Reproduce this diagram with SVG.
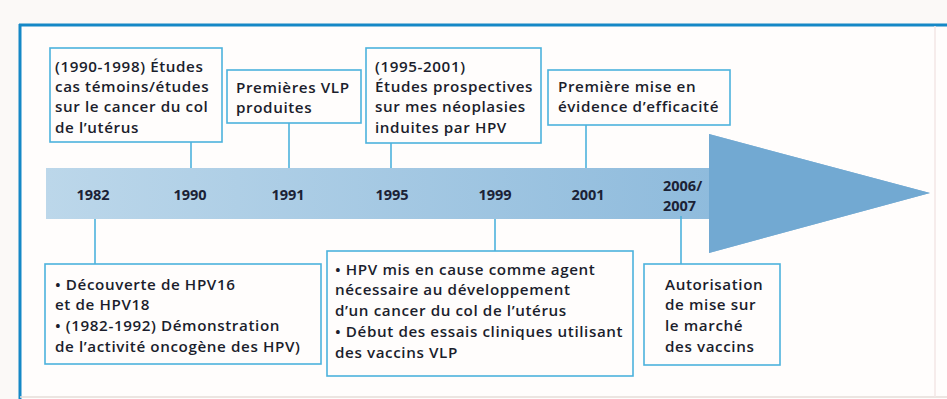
<svg xmlns="http://www.w3.org/2000/svg" width="947" height="399" viewBox="0 0 947 399">
<defs>
<linearGradient id="band" x1="0" y1="0" x2="1" y2="0">
<stop offset="0" stop-color="#bcd7ea"/>
<stop offset="1" stop-color="#80b2d8"/>
</linearGradient>
<style>
.box{fill:#fffdfc;stroke:#4db2dc;stroke-width:1.6}
.t{font-family:"Open Sans","Noto Sans",sans-serif;font-weight:600;font-size:15.2px;letter-spacing:0.6px;fill:#1b1e2c}
.y{font-family:"Open Sans","Noto Sans",sans-serif;font-weight:700;font-size:14.5px;fill:#1b2236;text-anchor:middle}
.c{stroke:#4db2dc;stroke-width:1.6;fill:none}
</style>
</defs>
<rect x="0" y="0" width="947" height="399" fill="#fbf9f7"/>
<rect x="19" y="25" width="928" height="374" fill="#fffdfc"/>
<line x1="19" y1="25" x2="947" y2="25" stroke="#1588c6" stroke-width="3"/>
<line x1="20" y1="24" x2="20" y2="399" stroke="#1588c6" stroke-width="3"/>
<line x1="20" y1="397" x2="947" y2="397" stroke="#e6dcd8" stroke-width="1.5"/>
<line x1="935" y1="26" x2="935" y2="397" stroke="#f3e6e6" stroke-width="1.5"/>

<g id="timeline">
<path d="M46,168 H709 V134 L930,193 L709,253 V219 H46 Z" fill="url(#band)"/>
<path d="M709,134 L930,193 L709,253 Z" fill="#72a9d2"/>
<text class="y" x="93" y="200">1982</text>
<text class="y" x="190" y="200">1990</text>
<text class="y" x="288" y="200">1991</text>
<text class="y" x="392" y="200">1995</text>
<text class="y" x="495" y="200">1999</text>
<text class="y" x="588" y="200">2001</text>
<text class="y" x="663" y="191" style="text-anchor:start">2006/</text>
<text class="y" x="663" y="211" style="text-anchor:start">2007</text>
</g>

<g id="connectors">
<line class="c" x1="191" y1="142" x2="191" y2="168"/>
<line class="c" x1="289" y1="123" x2="289" y2="168"/>
<line class="c" x1="391" y1="143" x2="391" y2="168"/>
<line class="c" x1="586" y1="125" x2="586" y2="168"/>
<line class="c" x1="95" y1="219" x2="95" y2="264"/>
<line class="c" x1="495" y1="219" x2="495" y2="251"/>
<line class="c" x1="681" y1="216" x2="681" y2="264"/>
</g>

<g id="n1990">
<rect class="box" x="50" y="48" width="172" height="94"/>
<text class="t" x="55" y="72">(1990-1998) Études</text>
<text class="t" x="55" y="92">cas témoins/études</text>
<text class="t" x="55" y="112">sur le cancer du col</text>
<text class="t" x="55" y="133">de l’utérus</text>
</g>
<g id="n1991">
<rect class="box" x="227" y="70" width="134" height="53"/>
<text class="t" x="236" y="93">Premières VLP</text>
<text class="t" x="236" y="113">produites</text>
</g>
<g id="n1995">
<rect class="box" x="366" y="48" width="175" height="95"/>
<text class="t" x="375" y="72">(1995-2001)</text>
<text class="t" x="375" y="92">Études prospectives</text>
<text class="t" x="375" y="112">sur mes néoplasies</text>
<text class="t" x="375" y="133">induites par HPV</text>
</g>
<g id="n2001">
<rect class="box" x="548" y="70" width="182" height="55"/>
<text class="t" x="558" y="92">Première mise en</text>
<text class="t" x="558" y="112">évidence d’efficacité</text>
</g>
<g id="n1982">
<rect class="box" x="45" y="264" width="276" height="100"/>
<text class="t" x="55" y="290">• Découverte de HPV16</text>
<text class="t" x="55" y="310">et de HPV18</text>
<text class="t" x="55" y="331">• (1982-1992) Démonstration</text>
<text class="t" x="55" y="352">de l’activité oncogène des HPV)</text>
</g>
<g id="n1999">
<rect class="box" x="327" y="251" width="306" height="125"/>
<text class="t" x="335" y="275">• HPV mis en cause comme agent</text>
<text class="t" x="335" y="295">nécessaire au développement</text>
<text class="t" x="335" y="316">d’un cancer du col de l’utérus</text>
<text class="t" x="335" y="337">• Début des essais cliniques utilisant</text>
<text class="t" x="335" y="358">des vaccins VLP</text>
</g>
<g id="n2006">
<rect class="box" x="644" y="264" width="136" height="101"/>
<text class="t" x="665" y="290">Autorisation</text>
<text class="t" x="665" y="310">de mise sur</text>
<text class="t" x="665" y="331">le marché</text>
<text class="t" x="665" y="352">des vaccins</text>
</g>
</svg>
